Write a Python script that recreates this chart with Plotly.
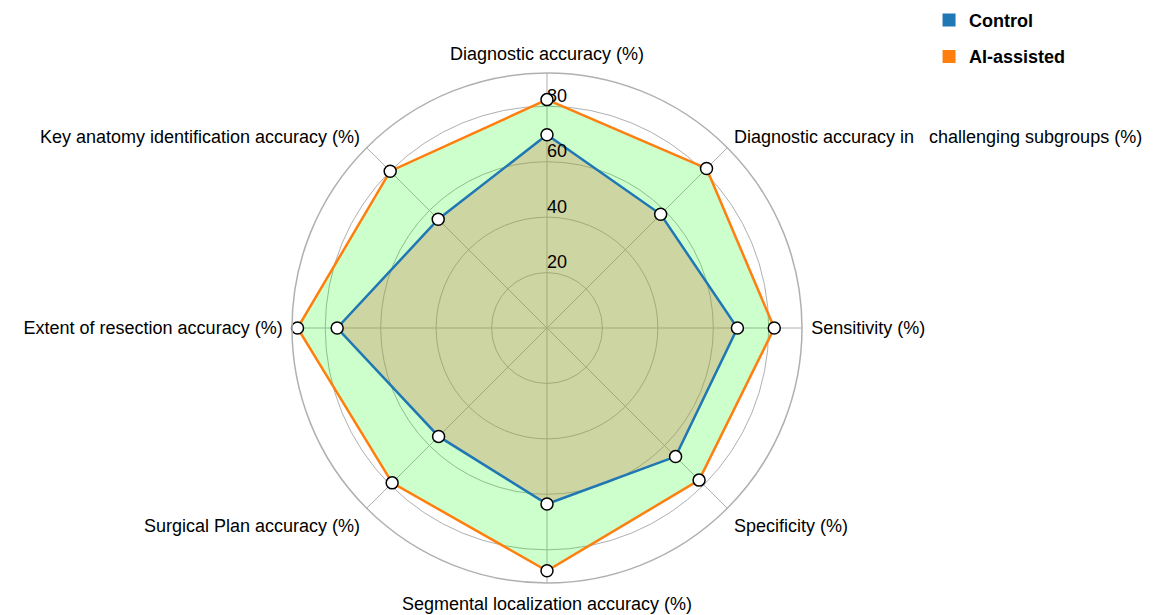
import plotly.graph_objects as go

# radar categories, clockwise from the top
categories = [
    "Diagnostic accuracy (%)",
    "Diagnostic accuracy in   challenging subgroups (%)",
    "Sensitivity (%)",
    "Specificity (%)",
    "Segmental localization accuracy (%)",
    "Surgical Plan accuracy (%)",
    "Extent of resection accuracy (%)",
    "Key anatomy identification accuracy (%)",
]
control = [69.7, 58.0, 68.7, 65.6, 63.5, 55.3, 75.7, 55.5]
ai_assisted = [82.4, 81.4, 82.0, 77.6, 87.6, 79.0, 90.0, 80.0]
radial_ticks = [20, 40, 60, 80]

FONT = "Liberation Sans, Arial, sans-serif"
BLUE = "#1f77b4"
ORANGE = "#ff7f0e"
GRID = "#b0b0b0"


# close the polygon by repeating the first point
def closed(values):
    return values + values[:1]


theta = closed(categories)
marker_style = dict(size=12, color="white", line=dict(color="black", width=1.5))

fig = go.Figure()

# -- AI-assisted polygon (green fill)
fig.add_trace(go.Scatterpolar(r=closed(ai_assisted), theta=theta, mode="lines",
                              fill="toself", fillcolor="rgba(0,255,0,0.2)",
                              line=dict(color=ORANGE, width=2.5), showlegend=False,
                              hoverinfo="skip"))

# -- Control polygon (olive fill over the green)
fig.add_trace(go.Scatterpolar(r=closed(control), theta=theta, mode="lines",
                              fill="toself", fillcolor="rgba(207,135,87,0.35)",
                              line=dict(color=BLUE, width=2.5), showlegend=False,
                              hoverinfo="skip"))

# -- radial tick labels, drawn horizontally beside the top spoke
fig.add_trace(go.Scatterpolar(r=radial_ticks, theta=[categories[0]] * len(radial_ticks),
                              mode="text", text=[str(v) for v in radial_ticks],
                              textposition="top right",
                              textfont=dict(size=18, color="black"),
                              showlegend=False, hoverinfo="skip"))

# -- white markers on top
for values in [ai_assisted, control]:
    fig.add_trace(go.Scatterpolar(r=values, theta=categories, mode="markers",
                                  marker=marker_style, showlegend=False))

# -- legend entries as plain squares
for name, color in [("Control", BLUE), ("AI-assisted", ORANGE)]:
    fig.add_trace(go.Scatterpolar(r=[None], theta=[categories[0]], mode="markers",
                                  marker=dict(symbol="square", size=13, color=color),
                                  name="<b>" + name + "</b>", legendgroup=name))

fig.update_layout(
    width=1160, height=615,
    margin=dict(l=0, r=0, t=0, b=0, autoexpand=False),
    paper_bgcolor="white",
    font=dict(family=FONT, size=18, color="black"),
    polar=dict(
        domain=dict(x=[0.2448, 0.6845], y=[0.0650, 0.8943]),
        bgcolor="white",
        radialaxis=dict(range=[0, 92], tickvals=radial_ticks, angle=90,
                        showline=False, ticks="", showticklabels=False,
                        gridcolor=GRID, gridwidth=1),
        angularaxis=dict(direction="clockwise", rotation=90, showline=True,
                         linecolor=GRID, linewidth=1.5, gridcolor=GRID,
                         ticks="outside", ticklen=5, tickcolor="rgba(0,0,0,0)",
                         tickfont=dict(size=18, color="black")),
    ),
    legend=dict(x=0.794, y=1.01, xanchor="left", yanchor="top",
                tracegroupgap=10, font=dict(size=18, color="black")),
)

fig.write_html("out.html")
